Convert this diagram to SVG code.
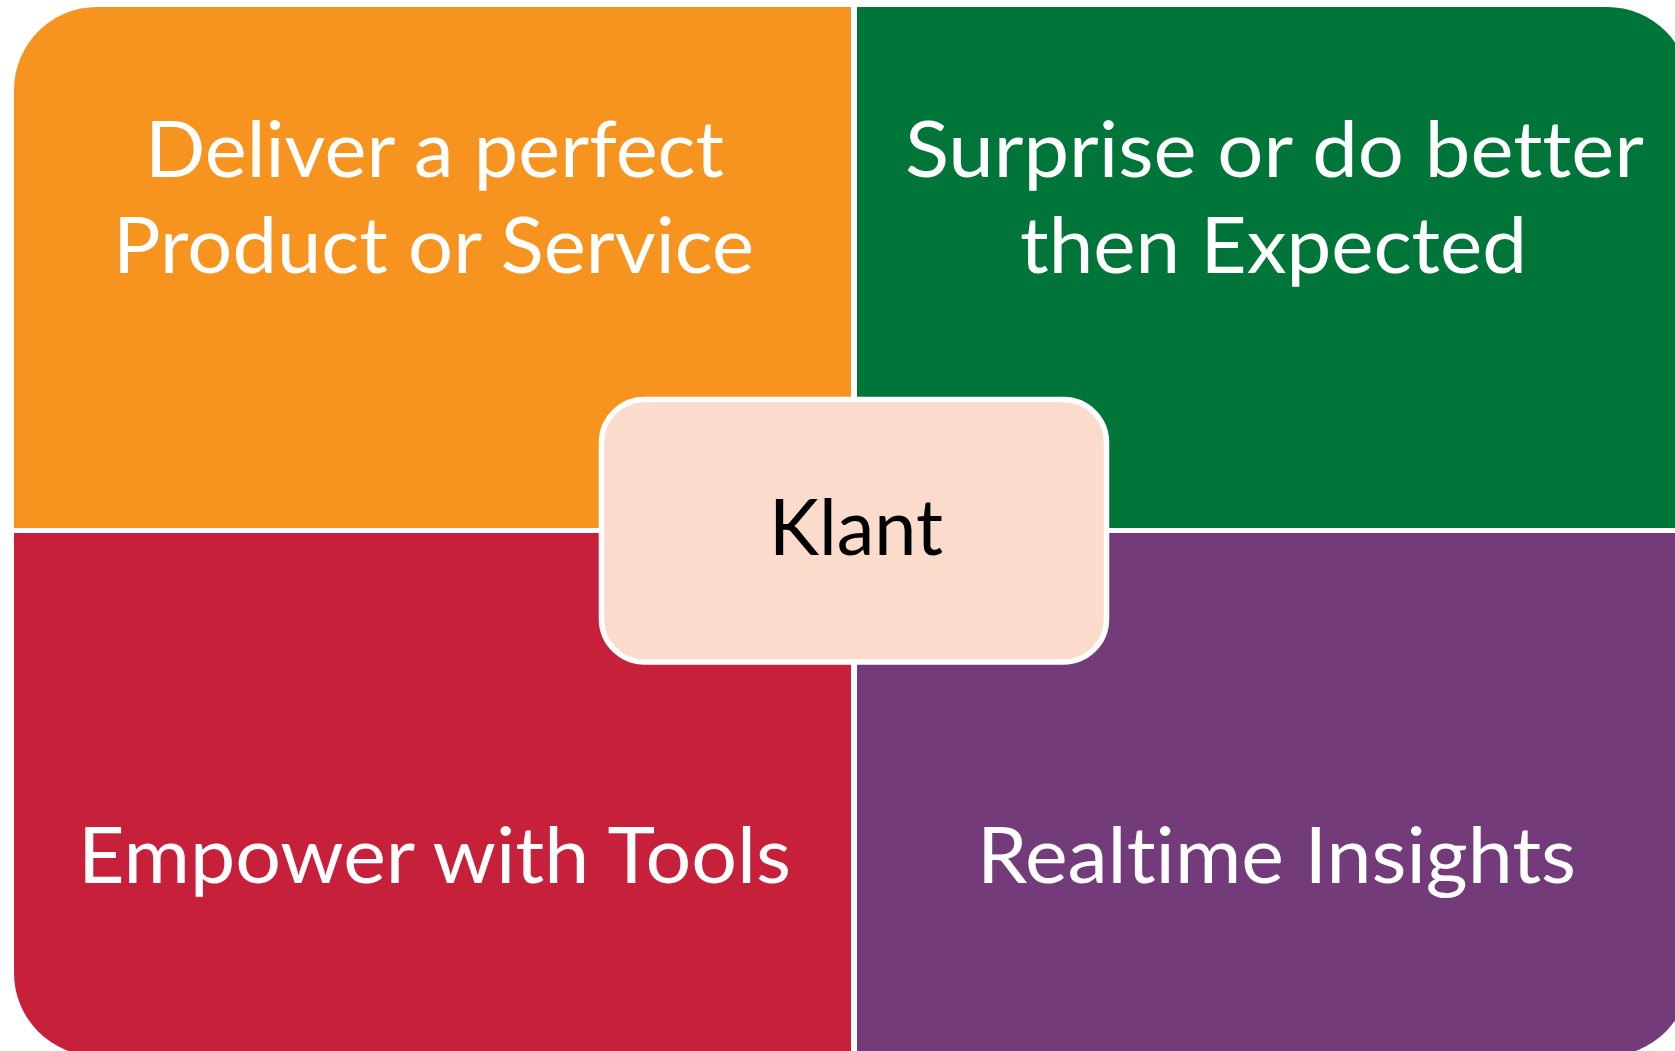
<svg xmlns="http://www.w3.org/2000/svg" width="1675" height="1051" viewBox="0 0 1675 1051">
  <defs>
    <clipPath id="outer">
      <rect x="14" y="7" width="1676" height="1049" rx="83" ry="83"/>
    </clipPath>
    <style>
      .lbl { font-family: "Lato", "Liberation Sans", sans-serif; font-size: 77px; fill: #ffffff; text-anchor: middle; font-variant-ligatures: none; font-feature-settings: "liga" 0, "clig" 0, "dlig" 0; }
      .center-lbl { font-family: "Lato", "Liberation Sans", sans-serif; font-size: 77px; fill: #000000; text-anchor: middle; font-variant-ligatures: none; font-feature-settings: "liga" 0, "clig" 0; }
    </style>
  </defs>
  <rect x="0" y="0" width="1675" height="1051" fill="#ffffff"/>
  <g clip-path="url(#outer)">
    <g id="q-deliver">
      <rect x="14" y="7" width="837" height="521" fill="#F7941F"/>
    </g>
    <g id="q-surprise">
      <rect x="857" y="7" width="833" height="521" fill="#00753A"/>
    </g>
    <g id="q-empower">
      <rect x="14" y="533" width="837" height="523" fill="#C7203A"/>
    </g>
    <g id="q-realtime">
      <rect x="857" y="533" width="833" height="523" fill="#733B7A"/>
    </g>
  </g>
  <g id="labels-deliver">
    <text class="lbl" x="434.5" y="177" textLength="579" lengthAdjust="spacingAndGlyphs">Deliver a perfect</text>
    <text class="lbl" x="433.5" y="273" textLength="641" lengthAdjust="spacingAndGlyphs">Product or Service</text>
  </g>
  <g id="labels-surprise">
    <text class="lbl" x="1274.5" y="177" textLength="739" lengthAdjust="spacingAndGlyphs">Surprise or do better</text>
    <text class="lbl" x="1273.5" y="273" textLength="507" lengthAdjust="spacingAndGlyphs">then Expected</text>
  </g>
  <g id="labels-empower">
    <text class="lbl" x="434.5" y="883" textLength="713" lengthAdjust="spacingAndGlyphs">Empower with Tools</text>
  </g>
  <g id="labels-realtime">
    <text class="lbl" x="1276.5" y="883" textLength="599" lengthAdjust="spacingAndGlyphs">Realtime Insights</text>
  </g>
  <g id="connectors"></g>
  <g id="klant">
    <rect x="601.5" y="399.5" width="505" height="262.5" rx="43" ry="43" fill="#FADBCC" stroke="#ffffff" stroke-width="5.5"/>
    <text class="center-lbl" x="856" y="555" textLength="174" lengthAdjust="spacingAndGlyphs">Klant</text>
  </g>
</svg>
